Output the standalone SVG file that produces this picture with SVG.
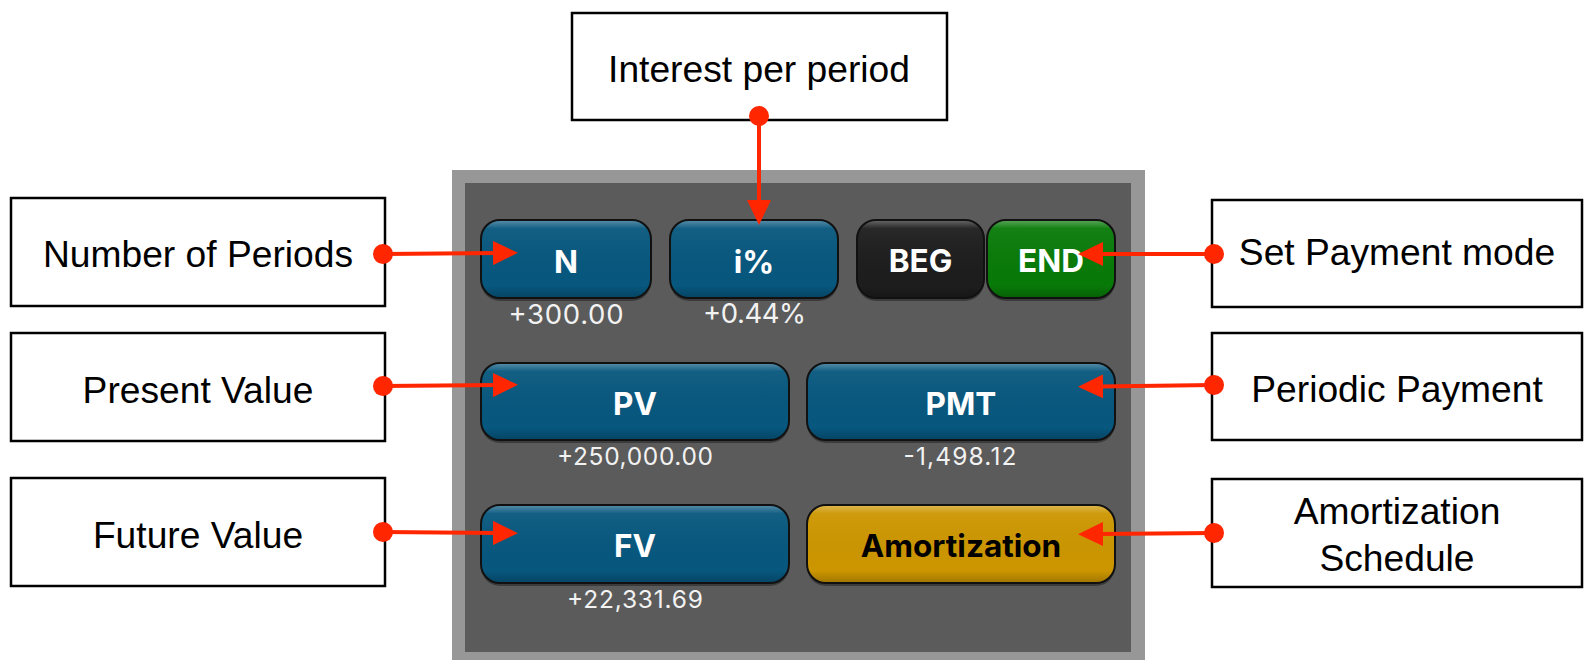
<svg xmlns="http://www.w3.org/2000/svg" width="1587" height="660" viewBox="0 0 1587 660">
  <style>
    .box { fill: #ffffff; stroke: #000000; stroke-width: 2.5; }
    .lbl { font-family: "Liberation Sans", Arial, sans-serif; font-size: 37.2px; fill: #000000; text-anchor: middle; }
    .key { stroke: #111111; stroke-width: 2; }
    .keytxt { font-family: Inter, "Liberation Sans", sans-serif; font-weight: 700; font-size: 31.5px; fill: #ffffff; text-anchor: middle; }
    .val { font-family: Inter, "Liberation Sans", sans-serif; font-size: 24.5px; fill: #f2f2f2; text-anchor: middle; }
    .val.big { font-size: 27.5px; }
    .dark { fill: #000000; }
    .wire { stroke: #ff2600; stroke-width: 4; fill: none; marker-start: url(#dot); marker-end: url(#head); }
    .shade { fill: #000000; opacity: 0.35; }
  </style>
  <defs>
    <marker id="head" viewBox="0 0 25 24" refX="5" refY="12" markerWidth="25" markerHeight="24" markerUnits="userSpaceOnUse" orient="auto">
      <path d="M0,0 L25,12 L0,24 Z" fill="#ff2600"/>
    </marker>
    <marker id="dot" viewBox="0 0 20 20" refX="10" refY="10" markerWidth="20" markerHeight="20" markerUnits="userSpaceOnUse" orient="auto">
      <circle cx="10" cy="10" r="10" fill="#ff2600"/>
    </marker>
    <linearGradient id="gloss" x1="0" y1="0" x2="0" y2="1">
      <stop offset="0" stop-color="#ffffff" stop-opacity="0.3"/>
      <stop offset="0.1" stop-color="#ffffff" stop-opacity="0.05"/>
      <stop offset="0.85" stop-color="#000000" stop-opacity="0"/>
      <stop offset="1" stop-color="#000000" stop-opacity="0.2"/>
    </linearGradient>
  </defs>

  <!-- calculator panel -->
  <g id="panel">
    <rect x="452" y="170" width="693" height="495" fill="#979797"/>
    <rect x="465" y="183" width="666" height="469" fill="#5b5b5b"/>
  </g>

  <!-- keys -->
  <g id="key-n">
    <rect class="shade" x="481" y="223" width="170" height="78" rx="19"/>
    <rect class="key" x="481" y="220" width="170" height="78" rx="19" fill="#07577e"/>
    <rect x="482" y="221" width="168" height="76" rx="18" fill="url(#gloss)"/>
    <text class="keytxt" x="566" y="273">N</text>
    <text class="val big" x="566" y="324" textLength="115" lengthAdjust="spacing">+300.00</text>
  </g>
  <g id="key-i">
    <rect class="shade" x="670" y="223" width="168" height="78" rx="19"/>
    <rect class="key" x="670" y="220" width="168" height="78" rx="19" fill="#07577e"/>
    <rect x="671" y="221" width="166" height="76" rx="18" fill="url(#gloss)"/>
    <text class="keytxt" x="754" y="273">i%</text>
    <text class="val big" x="754.5" y="323" textLength="103" lengthAdjust="spacing">+0.44%</text>
  </g>
  <g id="key-beg">
    <rect class="shade" x="857" y="223" width="127" height="78" rx="19"/>
    <rect class="key" x="857" y="220" width="127" height="78" rx="19" fill="#1d1d1d"/>
    <rect x="858" y="221" width="125" height="76" rx="18" fill="url(#gloss)"/>
    <text class="keytxt" x="920.5" y="272">BEG</text>
  </g>
  <g id="key-end">
    <rect class="shade" x="987" y="223" width="128" height="78" rx="19"/>
    <rect class="key" x="987" y="220" width="128" height="78" rx="19" fill="#087a08"/>
    <rect x="988" y="221" width="126" height="76" rx="18" fill="url(#gloss)"/>
    <text class="keytxt" x="1051" y="272">END</text>
  </g>
  <g id="key-pv">
    <rect class="shade" x="481" y="366" width="308" height="77" rx="19"/>
    <rect class="key" x="481" y="363" width="308" height="77" rx="19" fill="#07577e"/>
    <rect x="482" y="364" width="306" height="75" rx="18" fill="url(#gloss)"/>
    <text class="keytxt" x="635" y="415">PV</text>
    <text class="val" x="635" y="465" textLength="156" lengthAdjust="spacing">+250,000.00</text>
  </g>
  <g id="key-pmt">
    <rect class="shade" x="807" y="366" width="308" height="77" rx="19"/>
    <rect class="key" x="807" y="363" width="308" height="77" rx="19" fill="#07577e"/>
    <rect x="808" y="364" width="306" height="75" rx="18" fill="url(#gloss)"/>
    <text class="keytxt" x="961" y="415">PMT</text>
    <text class="val" x="960" y="465" textLength="113" lengthAdjust="spacing">-1,498.12</text>
  </g>
  <g id="key-fv">
    <rect class="shade" x="481" y="508" width="308" height="78" rx="19"/>
    <rect class="key" x="481" y="505" width="308" height="78" rx="19" fill="#07577e"/>
    <rect x="482" y="506" width="306" height="76" rx="18" fill="url(#gloss)"/>
    <text class="keytxt" x="635" y="557">FV</text>
    <text class="val" x="635" y="608" textLength="136" lengthAdjust="spacing">+22,331.69</text>
  </g>
  <g id="key-amort">
    <rect class="shade" x="807" y="508" width="308" height="78" rx="19"/>
    <rect class="key" x="807" y="505" width="308" height="78" rx="19" fill="#cc9600"/>
    <rect x="808" y="506" width="306" height="76" rx="18" fill="url(#gloss)"/>
    <text class="keytxt dark" x="961" y="557">Amortization</text>
  </g>

  <!-- callout boxes -->
  <g id="note-interest">
    <rect class="box" x="572" y="13" width="375" height="107"/>
    <text class="lbl" x="759" y="82">Interest per period</text>
  </g>
  <g id="note-periods">
    <rect class="box" x="11" y="198" width="374" height="108"/>
    <text class="lbl" x="198" y="267">Number of Periods</text>
  </g>
  <g id="note-present">
    <rect class="box" x="11" y="333" width="374" height="108"/>
    <text class="lbl" x="198" y="403">Present Value</text>
  </g>
  <g id="note-future">
    <rect class="box" x="11" y="478" width="374" height="108"/>
    <text class="lbl" x="198" y="548">Future Value</text>
  </g>
  <g id="note-mode">
    <rect class="box" x="1212" y="200" width="370" height="107"/>
    <text class="lbl" x="1397" y="265">Set Payment mode</text>
  </g>
  <g id="note-payment">
    <rect class="box" x="1212" y="333" width="370" height="107"/>
    <text class="lbl" x="1397" y="402">Periodic Payment</text>
  </g>
  <g id="note-schedule">
    <rect class="box" x="1212" y="479" width="370" height="108"/>
    <text class="lbl" x="1397" y="524">Amortization</text>
    <text class="lbl" x="1397" y="571">Schedule</text>
  </g>

  <!-- connectors -->
  <g id="connectors">
    <path class="wire" d="M759,116 L759,205"/>
    <path class="wire" d="M383,254 L498,253"/>
    <path class="wire" d="M383,386 L498,385"/>
    <path class="wire" d="M383,532 L498,533"/>
    <path class="wire" d="M1214,254 L1098,254"/>
    <path class="wire" d="M1214,385 L1098,386.5"/>
    <path class="wire" d="M1214,533 L1098,534"/>
  </g>
</svg>
